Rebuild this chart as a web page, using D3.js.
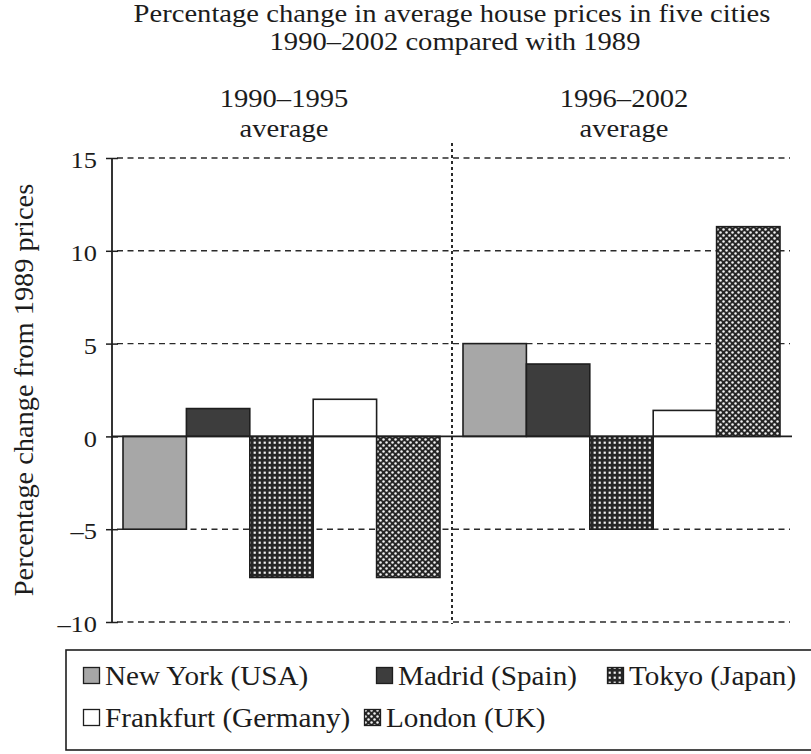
<!DOCTYPE html>
<html>
<head>
<meta charset="utf-8">
<script src="https://cdn.jsdelivr.net/npm/d3@7"></script>
<style>
  body { margin: 0; background: #fff; }
  svg { display: block; }
  svg text { font-family: "Liberation Serif", "Times New Roman", serif; fill: #1c1c1c; }
</style>
</head>
<body>
<div id="chart"></div>
<script>
// Data
const periods = ["1990–1995", "1996–2002"];
const cities = ["New York (USA)", "Madrid (Spain)", "Tokyo (Japan)", "Frankfurt (Germany)", "London (UK)"];
const values1990_1995 = [-5, 1.5, -7.6, 2, -7.6];
const values1996_2002 = [5, 3.9, -5, 1.4, 11.3];
const yTicks = [-10, -5, 0, 5, 10, 15];

const seriesByPeriod = [values1990_1995, values1996_2002];

// Dimensions
const width = 811, height = 754;
const plot = {left: 112, right: 792, top: 158, bottom: 622};
const SX = 1.1; // the printed type is a bit wider than Liberation Serif

const svg = d3.select("#chart").append("svg")
    .attr("width", width)
    .attr("height", height);

svg.append("rect").attr("width", width).attr("height", height).attr("fill", "#fff");

// stretched text helper
function label(parent, x, y, txt, size, anchor, sx) {
  return parent.append("g")
      .attr("transform", `translate(${x},${y}) scale(${sx || SX},1)`)
    .append("text")
      .attr("text-anchor", anchor || "start")
      .style("font-size", size + "px")
      .text(txt);
}

// Patterns
const defs = svg.append("defs");

const grid = defs.append("pattern")
    .attr("id", "pat-grid")
    .attr("patternUnits", "userSpaceOnUse")
    .attr("width", 5).attr("height", 5);
grid.append("rect").attr("width", 5).attr("height", 5).attr("fill", "#262626");
grid.append("rect").attr("x", 1.6).attr("y", 1.6).attr("width", 2.2).attr("height", 2.2).attr("fill", "#f2f2f2");

const hatch = defs.append("pattern")
    .attr("id", "pat-hatch")
    .attr("patternUnits", "userSpaceOnUse")
    .attr("width", 6).attr("height", 6);
hatch.append("rect").attr("width", 6).attr("height", 6).attr("fill", "#262626");
hatch.append("circle").attr("cx", 1.5).attr("cy", 1.5).attr("r", 1.25).attr("fill", "#f2f2f2");
hatch.append("circle").attr("cx", 4.5).attr("cy", 4.5).attr("r", 1.25).attr("fill", "#f2f2f2");

const fills = ["#a7a7a7", "#3d3d3d", "url(#pat-grid)", "#ffffff", "url(#pat-hatch)"];

// Scales
const x0 = d3.scaleBand()
    .domain(periods)
    .range([plot.left, plot.right]);

const x1 = d3.scaleBand()
    .domain(cities)
    .range([11, x0.bandwidth() - 12]);

const y = d3.scaleLinear()
    .domain([-10, 15])
    .range([plot.bottom, plot.top]);

// Title
label(svg, 452, 22, "Percentage change in average house prices in five cities", 26, "middle");
label(svg, 455, 50, "1990–2002 compared with 1989", 26, "middle");

// Period headings, centred over each group of bars
periods.forEach(p => {
  const cx = x0(p) + x0.bandwidth() / 2 + 2;
  label(svg, cx, 107, p, 26, "middle");
  label(svg, cx, 137, "average", 26, "middle");
});

// Gridlines (dashed)
svg.append("g")
  .selectAll("line")
  .data(yTicks.filter(d => d !== 0))
  .join("line")
    .attr("x1", plot.left + 5)
    .attr("x2", plot.right - 2)
    .attr("y1", d => y(d))
    .attr("y2", d => y(d))
    .attr("stroke", "#2a2a2a")
    .attr("stroke-width", 1.4)
    .attr("stroke-dasharray", "6,4.5");

// Divider between periods
svg.append("line")
    .attr("x1", x0(periods[1]))
    .attr("x2", x0(periods[1]))
    .attr("y1", 143)
    .attr("y2", y(-10) + 2)
    .attr("stroke", "#2a2a2a")
    .attr("stroke-width", 2)
    .attr("stroke-dasharray", "3,3");

// Bars
const groups = svg.append("g")
  .selectAll("g")
  .data(periods)
  .join("g")
    .attr("transform", d => `translate(${x0(d)},0)`);

groups.selectAll("rect")
  .data((p, i) => cities.map((c, j) => ({city: c, value: seriesByPeriod[i][j], idx: j})))
  .join("rect")
    .attr("x", d => x1(d.city))
    .attr("width", x1.bandwidth())
    .attr("y", d => y(Math.max(0, d.value)))
    .attr("height", d => Math.abs(y(d.value) - y(0)))
    .attr("fill", d => fills[d.idx])
    .attr("stroke", "#1e1e1e")
    .attr("stroke-width", 1.6);

// Zero line
svg.append("line")
    .attr("x1", plot.left)
    .attr("x2", plot.right)
    .attr("y1", y(0))
    .attr("y2", y(0))
    .attr("stroke", "#1e1e1e")
    .attr("stroke-width", 1.8);

// Y axis
const yAxis = d3.axisLeft(y)
    .tickValues(yTicks)
    .tickSize(6)
    .tickPadding(9)
    .tickFormat(d => d < 0 ? "–" + Math.abs(d) : String(d));

const yAxisG = svg.append("g")
    .attr("transform", `translate(${plot.left},0)`)
    .call(yAxis);
yAxisG.select(".domain").remove();
yAxisG.append("line")
    .attr("y1", y(15)).attr("y2", y(-10))
    .attr("stroke", "#1e1e1e").attr("stroke-width", 1.8);
yAxisG.selectAll(".tick line")
    .attr("x1", -6).attr("x2", 6)
    .attr("stroke", "#1e1e1e").attr("stroke-width", 1.5);
yAxisG.selectAll(".tick text")
    .style("font-size", "24px")
    .attr("dy", "0.4em")
    .attr("fill", "#1c1c1c")
    .attr("transform", `scale(${SX},1)`)
    .attr("x", -15 / SX);

// Y axis label
svg.append("g")
    .attr("transform", `translate(33,390) rotate(-90) scale(1.05,1)`)
  .append("text")
    .attr("text-anchor", "middle")
    .style("font-size", "27px")
    .text("Percentage change from 1989 prices");

// Legend
const legend = svg.append("g");
legend.append("rect")
    .attr("x", 66).attr("y", 650)
    .attr("width", 770).attr("height", 100)
    .attr("fill", "none")
    .attr("stroke", "#1e1e1e")
    .attr("stroke-width", 1.6);

const legendPos = [[83, 685], [376, 685], [607, 685], [83, 727], [364, 727]];
const legendItems = legend.selectAll("g.item")
  .data(cities)
  .join("g")
    .attr("class", "item")
    .attr("transform", (d, i) => `translate(${legendPos[i][0]},${legendPos[i][1]})`);

legendItems.append("rect")
    .attr("x", 0.5).attr("y", -17.5)
    .attr("width", 16).attr("height", 16)
    .attr("fill", (d, i) => fills[i])
    .attr("stroke", "#1e1e1e")
    .attr("stroke-width", 1.3);

legendItems.each(function (d) {
  label(d3.select(this), 22, 0, d, 27, "start", 1.08);
});
</script>
</body>
</html>
